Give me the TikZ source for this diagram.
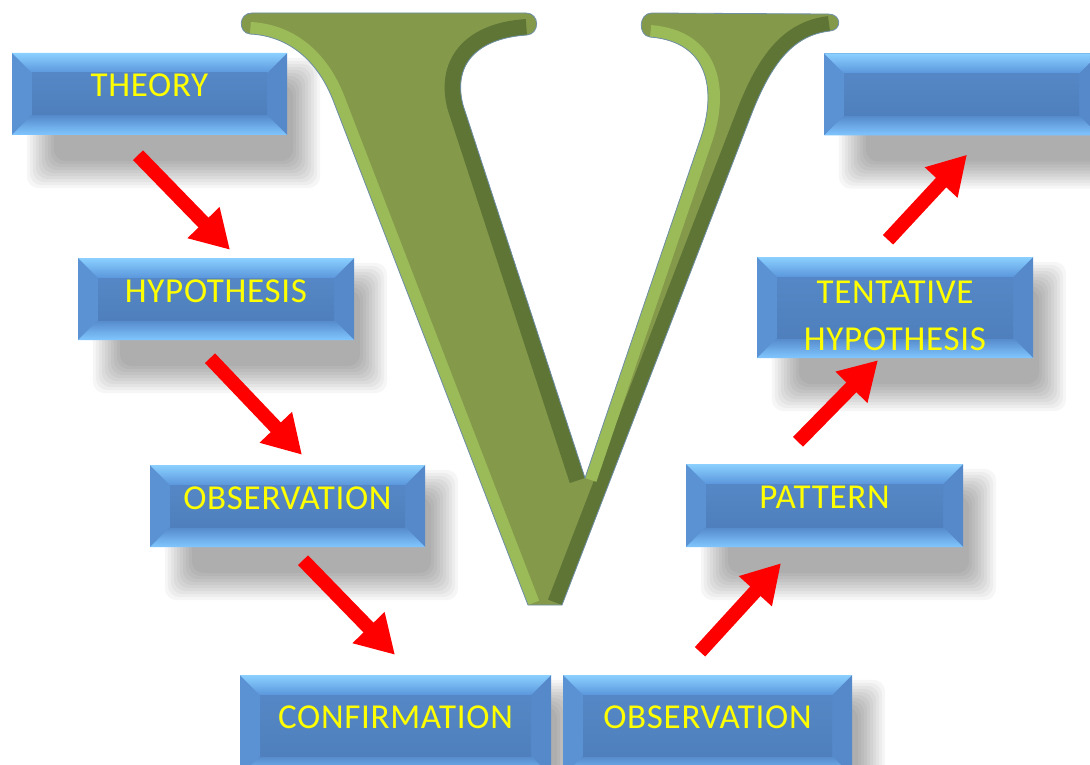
\documentclass[tikz,border=0pt]{standalone}
\usepackage{fontspec}
\newfontfamily\boxfont[LetterSpace=2.0]{Carlito}
\usetikzlibrary{arrows.meta}
\usetikzlibrary{backgrounds}

\definecolor{vgreen}{HTML}{84994A}
\definecolor{vlight}{HTML}{9BBB59}
\definecolor{vdark}{HTML}{5F7536}
\definecolor{vedge}{HTML}{6F8FA8}
\definecolor{bface}{HTML}{4F80BD}
\definecolor{bfacetop}{HTML}{5587C6}
\definecolor{btop}{HTML}{8BD0FF}
\definecolor{btopin}{HTML}{5A96DC}
\definecolor{bside}{HTML}{5A92D4}
\definecolor{bsidedk}{HTML}{5589CA}
\definecolor{bbot}{HTML}{80C6FF}
\definecolor{bbotin}{HTML}{5589CA}
\definecolor{tyellow}{HTML}{FFFF00}
\definecolor{arrred}{HTML}{FF0000}

\newcommand{\vface}{(252,13) -- (526,13) .. controls (540,13) and (540,34) .. (527,35)
    .. controls (480,38) and (452,62) .. (463,105) -- (585,478) -- (700,140)
    .. controls (716,95) and (712,42) .. (650,37)
    .. controls (638,36) and (638,13) .. (652,13) -- (828,14)
    .. controls (842,14) and (842,30) .. (830,31)
    .. controls (795,35) and (772,60) .. (750,118) -- (562,605) -- (528,605) -- (333,100)
    .. controls (318,62) and (290,36) .. (250,34)
    .. controls (238,33) and (238,13) .. (252,13) -- cycle}

\begin{document}
\begin{tikzpicture}[x=1pt, y=-1pt]
    \tikzset{
        vbox/.style={rectangle, inner sep=0pt, fill=bface,
            minimum width=275pt, minimum height=82pt,
            font=\boxfont\fontsize{35pt}{47pt}\selectfont, text=tyellow,
            text height=22pt, text depth=16pt, align=center,
            path picture={
                \coordinate (bNW) at (path picture bounding box.north west);
                \coordinate (bNE) at (path picture bounding box.north east);
                \coordinate (bSW) at (path picture bounding box.south west);
                \coordinate (bSE) at (path picture bounding box.south east);
                \fill[bside] (bNW) rectangle (bSE);
                \fill[bsidedk] (bNE) -- ([shift={(-20,20)}]bNE) -- ([shift={(-20,-20)}]bSE) -- (bSE) -- cycle;
                \shade[top color=btop, bottom color=btopin] (bNW) -- (bNE) -- ([shift={(-20,20)}]bNE) -- ([shift={(20,20)}]bNW) -- cycle;
                \shade[top color=bbotin, bottom color=bbot] (bSW) -- (bSE) -- ([shift={(-20,-20)}]bSE) -- ([shift={(20,-20)}]bSW) -- cycle;
                \shade[top color=bfacetop, bottom color=bface] ([shift={(20,20)}]bNW) rectangle ([shift={(-20,-20)}]bSE);
            }},
        flow/.style={draw=arrred, line width=14pt, -{Triangle[width=42pt,length=38pt]}}
    }

    \useasboundingbox (0,0) rectangle (1090,765);

    % the big V
    \begin{scope}
        \clip \vface;
        \fill[vgreen] (200,0) rectangle (900,620);
        \draw[vlight, line width=24pt] (250,34) .. controls (290,36) and (318,62) .. (333,100) -- (528,605);
        \draw[vdark, line width=30pt] (830,31) .. controls (795,35) and (772,60) .. (750,118) -- (562,605);
        \begin{scope}
            \clip (585,0) rectangle (900,620);
            \draw[vlight, line width=24pt] (650,37) .. controls (712,42) and (716,95) .. (700,140) -- (585,478);
        \end{scope}
        \begin{scope}
            \clip (200,0) rectangle (585,620);
            \draw[vdark, line width=32pt] (527,35) .. controls (480,38) and (452,62) .. (463,105) -- (585,478);
        \end{scope}
    \end{scope}
    \draw[vedge, line width=0.8pt] \vface;

    % boxes
    \node[vbox] (theory) at (149.5,94) {THEORY};
    \node[vbox, minimum width=276pt] (hyp) at (216,299) {HYPOTHESIS};
    \node[vbox] (obsL) at (287.5,506) {OBSERVATION};
    \node[vbox, minimum width=311pt, minimum height=101pt] (confirm) at (395.5,725.5) {CONFIRMATION};
    \node[vbox, minimum width=289pt, minimum height=101pt] (obsR) at (707.5,725.5) {OBSERVATION};
    \node[vbox, minimum width=277pt, minimum height=83pt] (pattern) at (824.5,505.5) {PATTERN};
    \node[vbox, minimum width=276pt, minimum height=101pt, text height=85.5pt, text depth=0pt] (tent) at (895,307.5) {TENTATIVE\\HYPOTHESIS};
    \node[vbox] (result) at (961.5,94.5) {};

    % soft shadows
    \begin{scope}[on background layer]
        \fill[white] (0,0) rectangle (1090,765);
        \foreach \b in {theory, hyp, obsL, confirm, obsR, pattern, tent, result} {
            \foreach \e in {-12,-9,...,15} {
                \fill[black, opacity=0.035, rounded corners=12pt]
                    ([shift={(30-\e,20-\e)}]\b.north west) rectangle ([shift={(18+\e,38+\e)}]\b.south east);
            }
        }
    \end{scope}

    % arrows
    \draw[flow] ([shift={(-11.5,20)}]theory.south) -- ([shift={(14,-8)}]hyp.north);
    \draw[flow] ([shift={(-6,18)}]hyp.south) -- ([shift={(14.5,-10)}]obsL.north);
    \draw[flow] ([shift={(15.5,13)}]obsL.south) -- ([shift={(-0.5,-20)}]confirm.north);
    \draw[flow] ([shift={(-7.5,-23)}]obsR.north) -- ([shift={(-43.5,16)}]pattern.south);
    \draw[flow] ([shift={(-26.5,-22)}]pattern.north) -- ([shift={(-17,2)}]tent.south);
    \draw[flow] ([shift={(-7,-17)}]tent.north) -- ([shift={(5.5,19)}]result.south);

\end{tikzpicture}
\end{document}
